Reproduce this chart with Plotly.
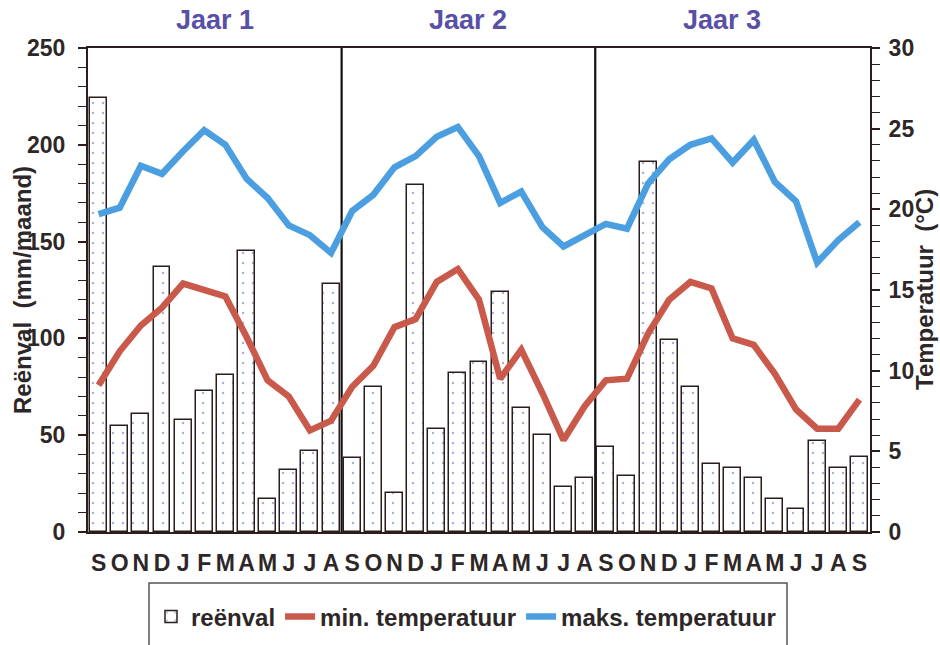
import plotly.graph_objects as go

# ---- data ----
months = ["S", "O", "N", "D", "J", "F", "M", "A", "M", "J", "J", "A"] * 3 + ["S"]
years = ["Jaar 1", "Jaar 2", "Jaar 3"]

rainfall = [224, 55, 61, 137, 58, 73, 81, 145, 17, 32, 42, 128,
            38, 75, 20, 179, 53, 82, 88, 124, 64, 50, 23, 28,
            44, 29, 191, 99, 75, 35, 33, 28, 17, 12, 47, 33, 39]

tmin = [9.1, 11.2, 12.8, 13.9, 15.4, 15.0, 14.6, 12.1, 9.4, 8.4, 6.3, 6.9,
        9.0, 10.3, 12.7, 13.2, 15.5, 16.3, 14.4, 9.5, 11.3, 8.6, 5.7, 7.8,
        9.4, 9.5, 12.3, 14.4, 15.5, 15.1, 12.0, 11.6, 9.8, 7.6, 6.4, 6.4, 8.2]

tmax = [19.7, 20.1, 22.7, 22.2, 23.6, 24.9, 24.0, 21.9, 20.7, 19.0, 18.4, 17.3,
        19.9, 20.9, 22.6, 23.3, 24.5, 25.1, 23.3, 20.4, 21.1, 18.9, 17.7, 18.4,
        19.1, 18.8, 21.6, 23.1, 24.0, 24.4, 22.9, 24.3, 21.7, 20.5, 16.7, 18.1, 19.2]

x = list(range(len(months)))

FONT = "Liberation Sans, Arial, sans-serif"
DARK = "#2e2727"
LINE = "#2b1d1d"
BLUE = "#4b9fe0"
RED = "#c9594a"
TITLE_COL = "#5850a6"

# pixel geometry helpers (plot area 88..870 x 48..532)
L, R, T, B = 88, 870, 48, 532
def px(xp):
    return (xp - L) / (R - L)
def py(yp):
    return (B - yp) / (B - T)

fig = go.Figure()

fig.add_trace(go.Bar(
    x=x, y=rainfall, width=0.8, name="reënval",
    marker=dict(color="white", line=dict(color=LINE, width=1.5),
                pattern=dict(shape=".", fgcolor="#5566aa", bgcolor="white",
                             size=10, solidity=0.05)),
))
fig.add_trace(go.Scatter(
    x=x, y=tmin, yaxis="y2", mode="lines", name="min. temperatuur",
    line=dict(color=RED, width=6.5),
))
fig.add_trace(go.Scatter(
    x=x, y=tmax, yaxis="y2", mode="lines", name="maks. temperatuur",
    line=dict(color=BLUE, width=6.5),
))

shapes = []
for k in range(1, len(years)):
    shapes.append(dict(type="line", xref="x", yref="paper",
                       x0=12 * k - 0.5, x1=12 * k - 0.5, y0=0, y1=1,
                       line=dict(color="#111", width=2.2), layer="below"))
# legend frame
shapes.append(dict(type="rect", xref="paper", yref="paper",
                   x0=px(149), x1=px(787), y0=py(583), y1=py(680),
                   line=dict(color="#555", width=1.5), fillcolor="rgba(0,0,0,0)"))

annotations = []
for k, name in enumerate(years):
    annotations.append(dict(text=name, xref="x", yref="paper",
                            x=12 * k + 5.5, y=py(20), showarrow=False,
                            xanchor="center", yanchor="middle",
                            font=dict(family=FONT, size=27, color=TITLE_COL, weight="bold")))
annotations.append(dict(text="Reënval  (mm/maand)", xref="paper", yref="paper",
                        x=px(22), y=0.5, textangle=-90, showarrow=False,
                        xanchor="center", yanchor="middle",
                        font=dict(family=FONT, size=24, color=DARK, weight="bold")))
annotations.append(dict(text="Temperatuur  (°C)", xref="paper", yref="paper",
                        x=px(924), y=0.5, textangle=-90, showarrow=False,
                        xanchor="center", yanchor="middle",
                        font=dict(family=FONT, size=24, color=DARK, weight="bold")))

fig.update_layout(
    width=940, height=645,
    margin=dict(l=L, r=940 - R, t=T, b=645 - B, autoexpand=False),
    paper_bgcolor="white", plot_bgcolor="white",
    showlegend=True,
    bargap=0,
    xaxis=dict(range=[-0.5, len(months) - 0.5], tickmode="array",
               tickvals=x, ticktext=months, ticks="", showgrid=False,
               zeroline=False, showline=True, linecolor=LINE, linewidth=2,
               mirror=True, ticklabelstandoff=9, automargin=False,
               tickfont=dict(family=FONT, size=23, color=DARK, weight="bold")),
    yaxis=dict(range=[0, 250], dtick=50, ticks="outside", ticklen=8,
               tickwidth=1.5, tickcolor=LINE, showgrid=False, zeroline=False,
               showline=True, linecolor=LINE, linewidth=2, ticklabelstandoff=8,
               automargin=False,
               minor=dict(dtick=10, ticks="outside", ticklen=8, tickwidth=1,
                          tickcolor=LINE, showgrid=False),
               tickfont=dict(family=FONT, size=23, color=DARK, weight="bold")),
    yaxis2=dict(range=[0, 30], dtick=5, overlaying="y", side="right",
                ticks="outside", ticklen=8, tickwidth=1.5, tickcolor=LINE,
                showgrid=False, zeroline=False, showline=True, linecolor=LINE,
                linewidth=2, ticklabelstandoff=4, automargin=False,
                minor=dict(dtick=1, ticks="outside", ticklen=8, tickwidth=1,
                           tickcolor=LINE, showgrid=False),
                tickfont=dict(family=FONT, size=23, color=DARK, weight="bold")),
    legend=dict(orientation="h", x=px(151), xanchor="left", y=py(617),
                yanchor="middle", bgcolor="rgba(0,0,0,0)", borderwidth=0,
                itemwidth=30,
                font=dict(family=FONT, size=24, color=DARK, weight="bold")),
    shapes=shapes,
    annotations=annotations,
)

fig.write_html("out.html", config={"displayModeBar": False},
               post_script="document.body.style.margin='0';document.body.style.overflow='hidden';")
